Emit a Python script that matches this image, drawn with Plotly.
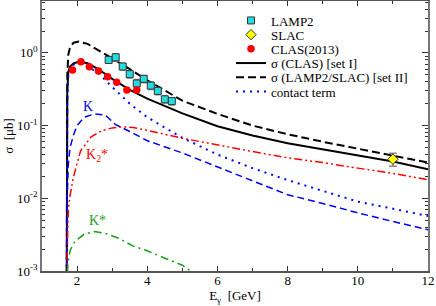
import plotly.graph_objects as go

# ---------------- data ----------------
lamp2_E = [2.9, 3.1, 3.3, 3.5, 3.7, 3.9, 4.1, 4.3, 4.5, 4.7]
lamp2_s = [0.80, 0.87, 0.65, 0.51, 0.38, 0.44, 0.355, 0.30, 0.23, 0.217]
lamp2_err = [0.08, 0.10, 0.07, 0.06, 0.05, 0.05, 0.04, 0.035, 0.025, 0.025]

slac_E = [11.0]
slac_s = [0.0345]
slac_err = [0.007]

clas_E = [1.87, 2.11, 2.35, 2.61, 2.87, 3.13, 3.42, 3.70]
clas_s = [0.58, 0.757, 0.645, 0.564, 0.47, 0.394, 0.309, 0.309]

set1_E = [1.70, 1.72, 1.75, 1.80, 1.90, 2.05, 2.30, 2.60, 3.00, 3.50, 4.00, 5.00, 6.00, 7.00, 8.00, 9.00, 10.0, 11.0, 12.0]
set1_s = [1e-4, 0.30, 0.55, 0.65, 0.72, 0.757, 0.72, 0.60, 0.44, 0.31, 0.235, 0.147, 0.098, 0.073, 0.057, 0.047, 0.039, 0.032, 0.025]

set2_E = [1.70, 1.72, 1.75, 1.80, 1.90, 2.05, 2.30, 2.60, 3.00, 3.50, 4.00, 5.00, 6.00, 7.00, 8.00, 9.00, 10.0, 11.0, 12.0]
set2_s = [1e-4, 0.50, 0.95, 1.20, 1.38, 1.43, 1.33, 1.10, 0.84, 0.60, 0.42, 0.22, 0.145, 0.100, 0.076, 0.060, 0.048, 0.038, 0.031]

contact_E = [1.70, 1.72, 1.75, 1.80, 1.90, 2.05, 2.30, 2.60, 3.00, 3.50, 4.00, 5.00, 6.00, 7.00, 8.00, 9.00, 10.0, 11.0, 12.0]
contact_s = [1e-4, 0.20, 0.50, 0.62, 0.69, 0.72, 0.65, 0.53, 0.34, 0.20, 0.13, 0.068, 0.040, 0.026, 0.0178, 0.0128, 0.0090, 0.0072, 0.0057]

k_E = [1.70, 1.72, 1.75, 1.80, 1.90, 2.00, 2.20, 2.50, 2.80, 3.10, 3.50, 4.00, 5.00, 6.00, 7.00, 8.00, 9.00, 10.0, 11.0, 12.0]
k_s = [1e-4, 0.010, 0.030, 0.050, 0.075, 0.100, 0.130, 0.145, 0.140, 0.103, 0.083, 0.062, 0.042, 0.027, 0.0173, 0.0112, 0.0085, 0.0063, 0.0048, 0.0037]

k2_E = [1.70, 1.72, 1.75, 1.80, 1.90, 2.10, 2.40, 2.70, 3.00, 3.30, 3.60, 4.00, 5.00, 6.00, 7.00, 8.00, 9.00, 10.0, 11.0, 12.0]
k2_s = [1e-4, 0.002, 0.007, 0.011, 0.020, 0.045, 0.070, 0.085, 0.093, 0.096, 0.094, 0.086, 0.067, 0.054, 0.044, 0.036, 0.031, 0.026, 0.022, 0.018]

kst_E = [1.70, 1.71, 1.75, 1.80, 1.90, 2.00, 2.20, 2.50, 2.80, 3.20, 3.60, 4.00, 4.50, 5.00, 5.30]
kst_s = [1e-5, 0.0008, 0.0014, 0.0019, 0.0024, 0.0027, 0.0032, 0.0035, 0.0033, 0.0028, 0.0022, 0.0019, 0.0015, 0.0012, 0.00095]

y_tickvals = [0.001, 0.01, 0.1, 1]
y_ticktext = ["10<sup>-3</sup>", "10<sup>-2</sup>", "10<sup>-1</sup>", "10<sup>0</sup>"]

FONT = "Liberation Serif, Times New Roman, DejaVu Serif, serif"

# plot-area geometry in pixels (used to place the legends)
W, H = 436, 306
ML, MR, MT, MB = 42, 8, 1, 35
PW, PH = W - ML - MR, H - MT - MB

fig = go.Figure()

# curves
fig.add_trace(go.Scatter(x=set1_E, y=set1_s, mode="lines", name="σ (CLAS) [set I]", legend="legend4",
                         line=dict(color="black", width=2)))
fig.add_trace(go.Scatter(x=set2_E, y=set2_s, mode="lines", name="σ (LAMP2/SLAC) [set II]", legend="legend5",
                         line=dict(color="black", width=2, dash="8px,4px")))
fig.add_trace(go.Scatter(x=contact_E, y=contact_s, mode="lines", name="contact term", legend="legend6",
                         line=dict(color="#0000ff", width=2, dash="2px,5px")))
fig.add_trace(go.Scatter(x=k_E, y=k_s, mode="lines", name="K", showlegend=False,
                         line=dict(color="#0000ff", width=1.5, dash="7px,4px")))
fig.add_trace(go.Scatter(x=k2_E, y=k2_s, mode="lines", name="K2*", showlegend=False,
                         line=dict(color="#ff0000", width=1.5, dash="8px,3px,2px,3px,2px,3px")))
fig.add_trace(go.Scatter(x=kst_E, y=kst_s, mode="lines", name="K*", showlegend=False,
                         line=dict(color="#1a9e1a", width=1.5, dash="8px,4px,2px,4px")))

# data points
fig.add_trace(go.Scatter(x=lamp2_E, y=lamp2_s, mode="markers", name="LAMP2", legend="legend",
                         error_y=dict(type="data", array=lamp2_err, color="#888888", thickness=1.5, width=3),
                         marker=dict(symbol="square", size=7, color="#22dddd",
                                     line=dict(color="#333333", width=1))))
fig.add_trace(go.Scatter(x=slac_E, y=slac_s, mode="markers", name="SLAC", legend="legend2",
                         error_y=dict(type="data", array=slac_err, color="#888888", thickness=1.5, width=4),
                         marker=dict(symbol="diamond", size=8, color="#ffff00",
                                     line=dict(color="#333333", width=1))))
fig.add_trace(go.Scatter(x=clas_E, y=clas_s, mode="markers", name="CLAS(2013)", legend="legend3",
                         marker=dict(symbol="circle", size=7.5, color="#ff0000")))

# labels on curves
fig.add_annotation(x=2.31, y=-0.744, xref="x", yref="y", text="K", showarrow=False,
                   font=dict(family=FONT, size=14, color="#0000ff"))
fig.add_annotation(x=2.57, y=-1.418, xref="x", yref="y", text="K<sub>2</sub>*", showarrow=False,
                   font=dict(family=FONT, size=14, color="#ff0000"))
fig.add_annotation(x=2.57, y=-2.312, xref="x", yref="y", text="K*", showarrow=False,
                   font=dict(family=FONT, size=14, color="#1a9e1a"))

minor_vals = [k * 10 ** p for p in range(-3, 1) for k in range(2, 10)]

legend_x_px = 231
legend_rows_px = [20.5, 34.7, 48.9, 63.1, 77.3, 91.5]
legend_keys = ["legend", "legend2", "legend3", "legend4", "legend5", "legend6"]
legends = {}
for key, ypx in zip(legend_keys, legend_rows_px):
    legends[key] = dict(x=(legend_x_px - ML) / PW, y=(H - MB - ypx) / PH,
                        xanchor="left", yanchor="middle",
                        bgcolor="rgba(0,0,0,0)", borderwidth=0,
                        font=dict(family=FONT, size=13), itemwidth=30)

fig.update_layout(
    width=W, height=H,
    margin=dict(l=ML, r=MR, t=MT, b=MB, autoexpand=False),
    paper_bgcolor="white", plot_bgcolor="white",
    font=dict(family=FONT, size=13, color="black"),
    showlegend=True,
    **legends,
    xaxis=dict(range=[1, 12], tick0=0, dtick=2, ticks="inside", ticklen=5,
               tickcolor="#333", showgrid=False, zeroline=False, automargin=False,
               showline=True, linecolor="#555", linewidth=1.5, mirror="ticks",
               minor=dict(dtick=1, ticks="inside", ticklen=3, tickcolor="#333", showgrid=False),
               title=dict(text="E<sub>γ</sub>  [GeV]", font=dict(family=FONT, size=13), standoff=0),
               tickfont=dict(family=FONT, size=13), ticklabelstandoff=-3),
    yaxis=dict(type="log", range=[-3, 0.714], tickmode="array", tickvals=y_tickvals,
               ticktext=y_ticktext, ticks="inside", ticklen=6, tickcolor="#333",
               showgrid=False, zeroline=False, automargin=False,
               showline=True, linecolor="#777", linewidth=1.5, mirror="ticks",
               minor=dict(tickmode="array", tickvals=minor_vals, ticks="inside", ticklen=3,
                          tickcolor="#333", showgrid=False),
               title=dict(text="σ  [μb]", font=dict(family=FONT, size=13), standoff=1),
               tickfont=dict(family=FONT, size=13)),
)

fig.write_html("out.html", config={"displayModeBar": False},
               post_script="document.body.style.margin='0';")
